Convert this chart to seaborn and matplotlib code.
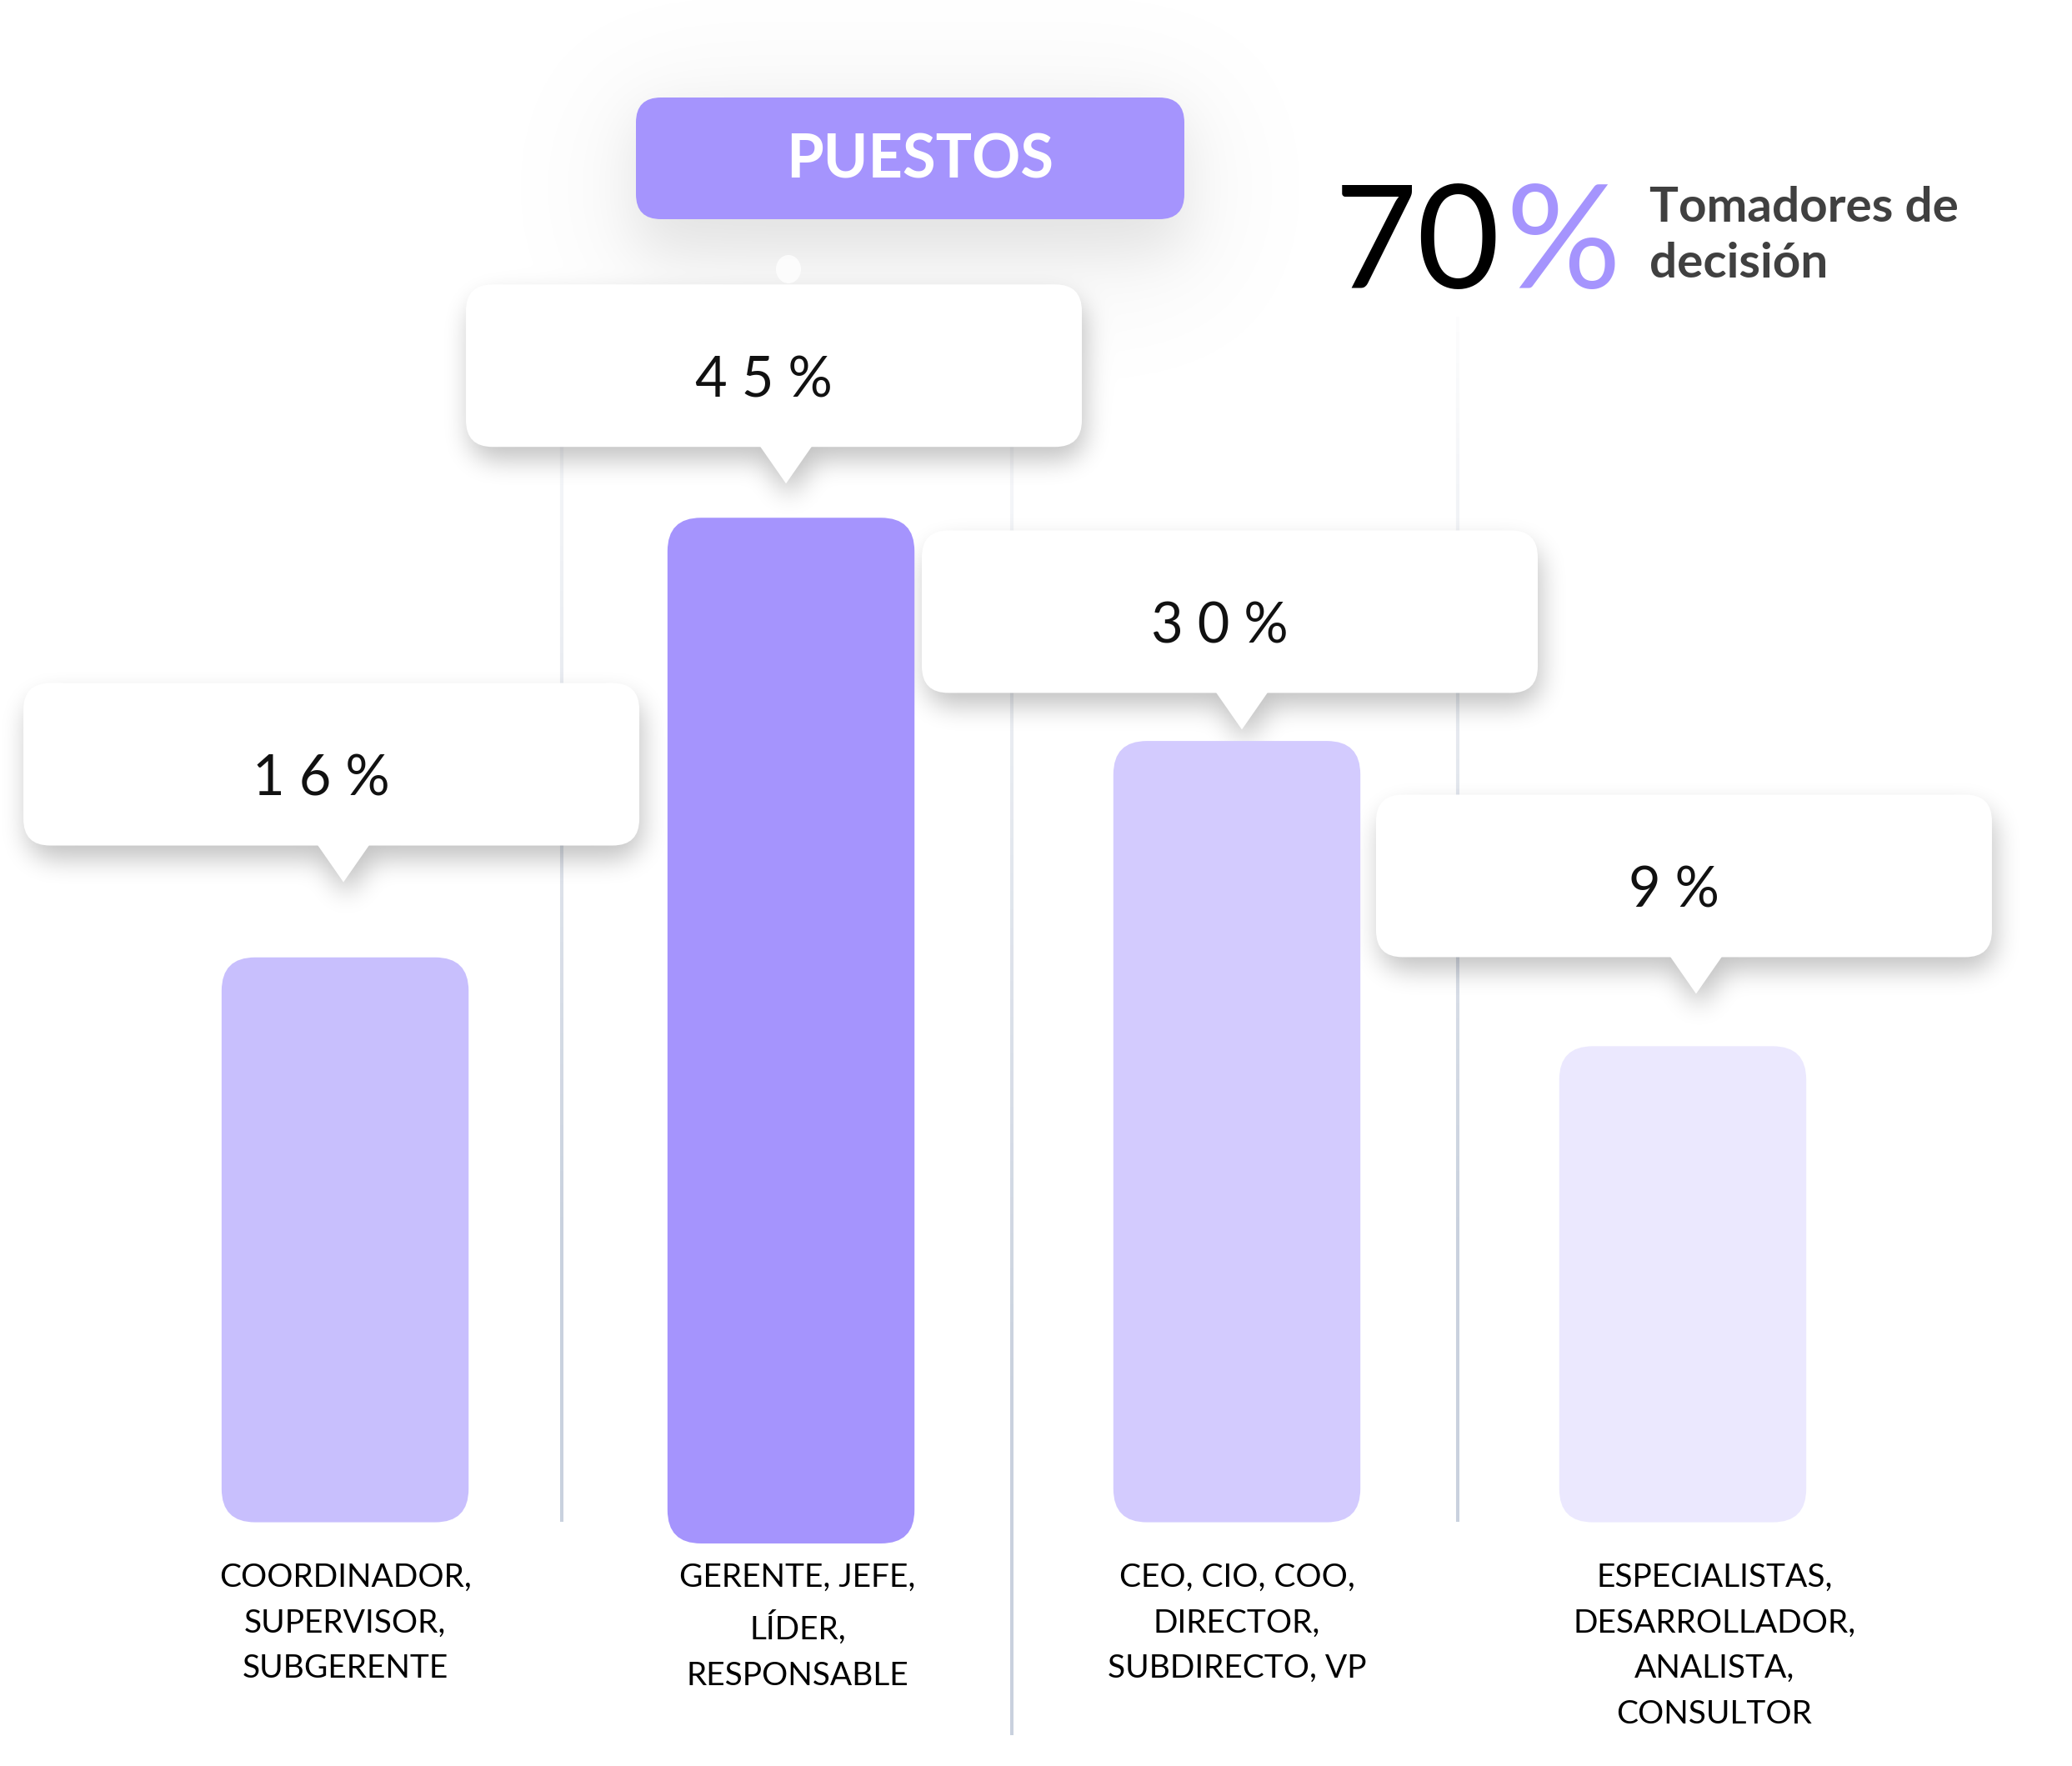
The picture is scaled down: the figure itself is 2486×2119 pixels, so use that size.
import matplotlib
matplotlib.use("Agg")
import matplotlib.pyplot as plt
import seaborn as sns
import numpy as np
import pandas as pd
from matplotlib.patches import FancyBboxPatch, Polygon, Ellipse
from matplotlib.collections import LineCollection

categories = [
    "COORDINADOR,\nSUPERVISOR,\nSUBGERENTE",
    "GERENTE, JEFE,\nLÍDER,\nRESPONSABLE",
    "CEO, CIO, COO,\nDIRECTOR,\nSUBDIRECTO, VP",
    "ESPECIALISTAS,\nDESARROLLADOR,\nANALISTA,\nCONSULTOR",
]
shares = [16, 45, 30, 9]                 # numbers in the callouts (%)
bar_tops = [24.8, 44.1, 34.3, 20.9]      # drawn bar heights (design units)
bar_bottoms = [0.0, -0.93, 0.0, 0.0]
bar_colors = ["#c8bffd", "#a594fd", "#d3cbfe", "#ebe8fe"]
headline_value = 70
headline_caption = ["Tomadores de", "decisión"]
title = "PUESTOS"

# layout (pixels / design units)
W, H = 2486, 2119
callout_gap = [3.3, 1.5, 0.5, 2.3]
callout_dx = [-2, -6, 6, 16]
label_dx = [0, 8, 0, 38]
ACCENT = "#a594fd"

sns.set_theme(style="white")
plt.rcParams["font.family"] = ["Lato", "DejaVu Sans"]

fig = plt.figure(figsize=(W / 100, H / 100), dpi=100, facecolor="white")

# background layer in pixel coordinates (y up)
bg = fig.add_axes([0, 0, 1, 1], zorder=0)
bg.set_xlim(0, W)
bg.set_ylim(0, H)
bg.axis("off")

# bar layer
ax = fig.add_axes([0, 0, 1, 1], zorder=1)
ax.patch.set_alpha(0)
df = pd.DataFrame({"puesto": categories, "valor": bar_tops})
sns.barplot(data=df, x="puesto", y="valor", hue="puesto", palette=bar_colors,
            legend=False, ax=ax, width=0.554, saturation=1)
ax.set_xlim(-0.774, 3.873)
ax.set_ylim(-10.70, 66.83)
ax.axis("off")

to_px = ax.transData.transform
px_x = to_px((1, 0))[0] - to_px((0, 0))[0]
px_y = to_px((0, 1))[1] - to_px((0, 0))[1]
aspect = px_x / px_y

# rounded bars replacing the seaborn rectangles
bar_centers = []
for i, p in enumerate(list(ax.patches)):
    x0, w = p.get_x(), p.get_width()
    p.set_visible(False)
    rb = FancyBboxPatch((x0, bar_bottoms[i]), w, bar_tops[i] - bar_bottoms[i],
                        boxstyle="round,pad=0,rounding_size=0.075",
                        mutation_aspect=aspect, fc=bar_colors[i], ec="none")
    ax.add_patch(rb)
    bar_centers.append(x0 + w / 2)


# --- soft shadows, rendered as a blurred alpha image ---
def rrect_mask(x0, y0, x1, y1, r):
    m = np.zeros((H, W))
    xa, xb = max(int(x0), 0), min(int(x1) + 1, W)
    ya, yb = max(int(y0), 0), min(int(y1) + 1, H)
    X, Y = np.meshgrid(np.arange(xa, xb) + 0.5, np.arange(ya, yb) + 0.5)
    dx = np.maximum(np.maximum(x0 + r - X, X - (x1 - r)), 0)
    dy = np.maximum(np.maximum(y0 + r - Y, Y - (y1 - r)), 0)
    m[ya:yb, xa:xb] = (dx ** 2 + dy ** 2 <= r ** 2)
    return m


def tri_mask(m, tx, ty, top, hw):
    for yy in range(max(int(ty), 0), min(int(top) + 1, H)):
        half = hw * (yy - ty) / (top - ty)
        m[yy, max(int(tx - half), 0):min(int(tx + half) + 1, W)] = 1
    return m


def box1d(a, r, axis):
    pad = [(0, 0), (0, 0)]
    pad[axis] = (r + 1, r)
    c = np.cumsum(np.pad(a, pad), axis=axis)
    n = a.shape[axis]
    hi = np.take(c, np.arange(2 * r + 1, 2 * r + 1 + n), axis=axis)
    lo = np.take(c, np.arange(0, n), axis=axis)
    return (hi - lo) / (2 * r + 1)


def blur(a, r):
    for _ in range(3):
        a = box1d(a, r, 0)
        a = box1d(a, r, 1)
    return a


shadow = np.zeros((H, W))

# title box halo
TB = (763, 1856, 1421, 2002)
shadow += 0.07 * blur(rrect_mask(TB[0], TB[1] - 40, TB[2], TB[3] - 20, 30), 28)
shadow += 0.045 * blur(rrect_mask(TB[0] - 40, TB[1] - 90, TB[2] + 40, TB[3] + 20, 60), 75)

callouts = []
for i, val in enumerate(shares):
    tx, ty = to_px((bar_centers[i], bar_tops[i] + callout_gap[i]))
    tx += callout_dx[i]
    bx0, bx1 = tx - 384, tx + 355
    by0, bh = ty + 44, 195
    callouts.append((tx, ty, bx0, bx1, by0, bh, val))
    m = rrect_mask(bx0 + 4, by0 - 16, bx1 + 4, by0 + bh - 16, 32)
    m = tri_mask(m, tx + 4, ty - 16, by0 - 16, 32)
    shadow += 0.24 * blur(m, 14)

shadow = np.clip(shadow, 0, 1)
rgba = np.zeros((H, W, 4))
rgba[..., 3] = shadow
bg.imshow(rgba, extent=(0, W, 0, H), origin="lower", zorder=1,
          interpolation="bilinear", aspect="auto")
bg.set_xlim(0, W)
bg.set_ylim(0, H)

# faint divider lines fading upwards
for xline, ybot in [(674, 293), (1214, 37), (1749, 293)]:
    ys = np.linspace(1739, ybot, 80)
    segs = [[(xline, ys[j]), (xline, ys[j + 1])] for j in range(len(ys) - 1)]
    alphas = np.clip(np.linspace(0.05, 1.3, len(segs)), 0, 1)
    cols = [(0.79, 0.82, 0.87, a) for a in alphas]
    bg.add_collection(LineCollection(segs, colors=cols, linewidths=2.9, zorder=0.5))

# title box
bg.add_patch(Ellipse((946, 1796), 30, 34, fc="white", ec="none", alpha=0.8, zorder=2))
bg.add_patch(FancyBboxPatch((TB[0], TB[1]), TB[2] - TB[0], TB[3] - TB[1],
                            boxstyle="round,pad=0,rounding_size=30",
                            fc=ACCENT, ec="none", zorder=2))
bg.text(1104, 1926, title, ha="center", va="center", color="white",
        fontsize=52, fontweight="bold", zorder=3)

# callouts
for tx, ty, bx0, bx1, by0, bh, val in callouts:
    bg.add_patch(FancyBboxPatch((bx0, by0), bx1 - bx0, bh,
                                boxstyle="round,pad=0,rounding_size=32",
                                fc="white", ec="none", zorder=2))
    bg.add_patch(Polygon([(tx - 32, by0 + 2), (tx + 32, by0 + 2), (tx, ty)],
                         closed=True, fc="white", ec="none", zorder=2))
    bg.text(tx - 27, by0 + 60, " ".join(str(val)) + " %", ha="center",
            va="baseline", fontsize=48, color="#111111", zorder=3)

# category labels under the bars
for i, lab in enumerate(categories):
    cx = to_px((bar_centers[i], 0))[0] + label_dx[i]
    bg.text(cx, 244, lab, ha="center", va="top", fontsize=28,
            linespacing=1.64, color="black", zorder=3)

# headline figure
bg.text(1800, 1773, str(headline_value), ha="right", va="baseline",
        fontsize=124, color="black", zorder=3)
bg.text(1806, 1773, "%", ha="left", va="baseline", fontsize=124,
        color=ACCENT, zorder=3)
bg.text(1979, 1853, headline_caption[0], ha="left", va="baseline",
        fontsize=42, fontweight="bold", color="#404040", zorder=3)
bg.text(1979, 1786, headline_caption[1], ha="left", va="baseline",
        fontsize=42, fontweight="bold", color="#404040", zorder=3)

fig.savefig("out.png", dpi=100, facecolor="white")
plt.close(fig)
